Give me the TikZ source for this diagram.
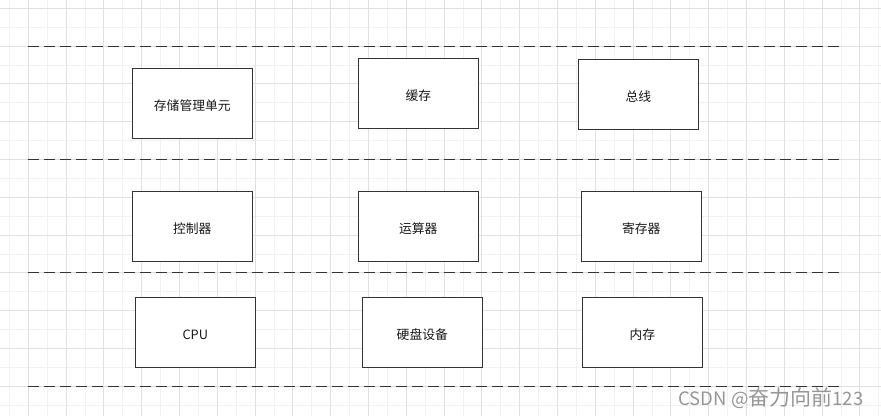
\documentclass[tikz,border=0pt]{standalone}
\usepackage{fontspec}
\setmainfont{Noto Sans CJK SC}

\definecolor{gridminor}{RGB}{241,241,241}
\definecolor{gridmajor}{RGB}{224,224,224}
\definecolor{boxline}{RGB}{51,51,51}
\definecolor{wmgray}{RGB}{150,150,150}

\begin{document}
\begin{tikzpicture}[x=1pt, y=-1pt]
    \tikzset{UnitStyle/.style={draw=boxline, line width=1.1pt, fill=white,
        minimum width=120pt, minimum height=70pt, inner sep=0pt,
        text height=13.5pt, text depth=0pt,
        font=\fontsize{12.8}{14}\selectfont, text=black!90}}
    \tikzset{LayerStyle/.style={draw=boxline, line width=1pt,
        dash pattern=on 10.5pt off 5.5pt}}

    % background grid
    \useasboundingbox[fill=white] (0,0) rectangle (881,416);
    \foreach \gx in {9.4,47.2,...,880} \draw[gridminor, line width=1pt] (\gx,0) -- (\gx,416);
    \foreach \gy in {27.2,65,...,416} \draw[gridminor, line width=1pt] (0,\gy) -- (881,\gy);
    \foreach \gx in {28.3,66.1,...,880} \draw[gridmajor, line width=1pt] (\gx,0) -- (\gx,416);
    \foreach \gy in {8.3,46.1,...,416} \draw[gridmajor, line width=1pt] (0,\gy) -- (881,\gy);

    % layer separators
    \coordinate (L1w) at (28.3,46.1);  \coordinate (L1e) at (841,46.1);
    \coordinate (L2w) at (28.3,159.5); \coordinate (L2e) at (841,159.5);
    \coordinate (L3w) at (28.3,272.9); \coordinate (L3e) at (841,272.9);
    \coordinate (L4w) at (28.3,386.3); \coordinate (L4e) at (841,386.3);
    \draw[LayerStyle] (L1w) -- (L1e);
    \draw[LayerStyle] (L2w) -- (L2e);
    \draw[LayerStyle] (L3w) -- (L3e);
    \draw[LayerStyle] (L4w) -- (L4e);

    % top layer
    \node[UnitStyle] (MMU)   at (192.3,103.3) {存储管理单元};
    \node[UnitStyle] (Cache) at (418.3,93.3)  {缓存};
    \node[UnitStyle] (Bus)   at (638.3,94.3)  {总线};

    % middle layer
    \node[UnitStyle] (Ctrl)  at (192.3,226.3) {控制器};
    \node[UnitStyle] (ALU)   at (418.3,226.3) {运算器};
    \node[UnitStyle] (Reg)   at (641.3,226.3) {寄存器};

    % bottom layer
    \node[UnitStyle] (CPU)   at (195.3,332.3) {CPU};
    \node[UnitStyle] (Disk)  at (422.3,332.3) {硬盘设备};
    \node[UnitStyle] (Mem)   at (642.3,332.3) {内存};

    \node[anchor=base west, inner sep=0pt, text=wmgray] (Mark) at (678.3,405)
        {{\fontsize{18.5}{20}\selectfont CSDN @}{\fontsize{21}{22}\selectfont 奋力向前}{\fontsize{18.5}{20}\selectfont 123}};
\end{tikzpicture}
\end{document}
